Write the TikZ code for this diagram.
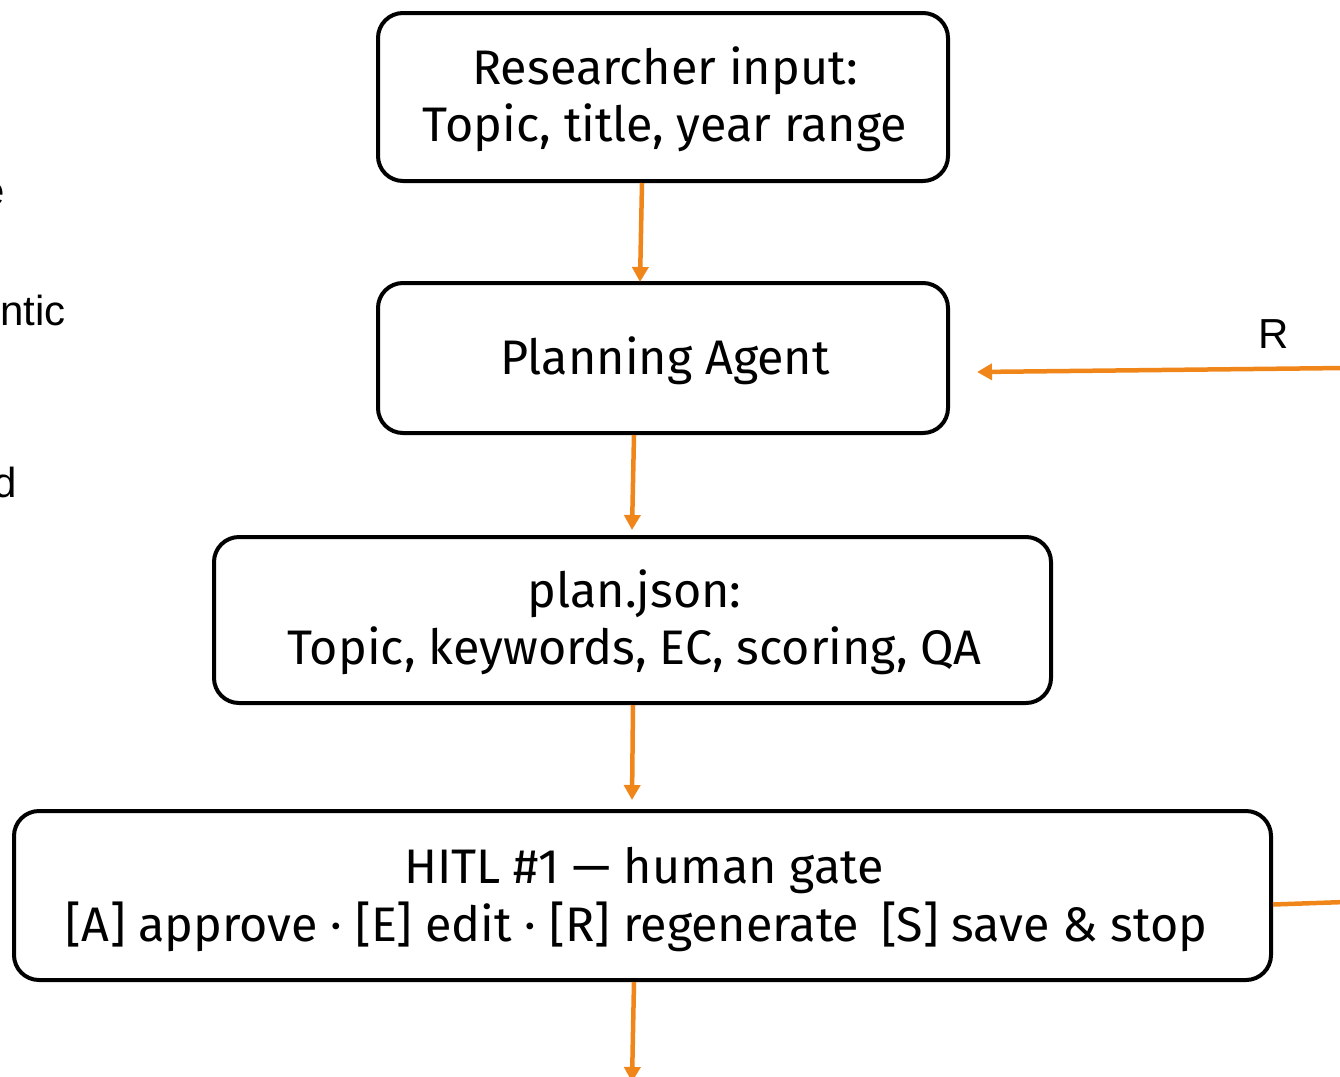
\documentclass[tikz,border=0pt]{standalone}
\usepackage{fontspec}
\setmainfont{Fira Sans}
\newfontfamily\sidefont{Liberation Sans}
\usetikzlibrary{arrows.meta}
\definecolor{flow}{HTML}{F0861A}
\tikzset{
  box/.style={draw=black, line width=4pt, rounded corners=25pt, fill=white,
    inner sep=0pt},
  boxtext/.style={align=center, inner sep=0pt,
    font=\fontsize{48.5}{57.5}\selectfont},
  flowarrow/.style={draw=flow, line width=4.5pt,
    -{Triangle[width=16pt,length=15pt]}},
  flowline/.style={draw=flow, line width=4.5pt},
  sidetext/.style={font=\sidefont\fontsize{42}{50}\selectfont, inner sep=0pt},
}
\begin{document}
\begin{tikzpicture}[x=1pt,y=1pt]
\useasboundingbox (0,0) rectangle (1340,-1076);
\clip (0,0) rectangle (1340,-1076);

% labels of the neighbouring column, cut by the frame edge
\node[sidetext, anchor=base east] (sideA) at (5,-205) {e};
\node[sidetext, anchor=base east] (sideB) at (66,-325) {ntic};
\node[sidetext, anchor=base east] (sideC) at (17,-497) {d};

% main column: frames
\node[box, minimum width=570, minimum height=168] (input) at (663,-97) {};
\node[box, minimum width=570, minimum height=150] (planner) at (663,-358) {};
\node[box, minimum width=837, minimum height=166] (plan) at (632.5,-620) {};
\node[box, minimum width=1257, minimum height=169] (gate) at (642.5,-895.5) {};

% main column: texts
\node[boxtext] (inputText) at ([xshift=2pt,yshift=-2pt]input.center)
  {Researcher input:\\Topic, title, year range};
\node[boxtext] (plannerText) at ([xshift=2pt,yshift=-3pt]planner.center)
  {Planning Agent};
\node[boxtext] (planText) at ([xshift=2pt,yshift=-2pt]plan.center)
  {plan.json:\\Topic, keywords, EC, scoring, QA};
\node[boxtext] (gateText) at ([xshift=-6pt,yshift=-4pt]gate.center)
  {\hspace*{15pt}HITL \#1 — human gate\\{}[A] approve · [E] edit · [R] regenerate\hspace{0.45em}[S] save \& stop};

% free ends beyond the frame
\coordinate (regenIn) at (1345,-368);
\coordinate (gateOut) at (1345,-902);
\coordinate (nextStep) at (632,-1082);

% vertical flow
\draw[flowarrow] ([xshift=-21pt]input.south) -- ([xshift=-23pt,yshift=-1pt]planner.north);
\draw[flowarrow] ([xshift=-29pt]planner.south) -- ([xshift=-0.5pt,yshift=5pt]plan.north);
\draw[flowarrow] ([xshift=0.5pt]plan.south) -- ([xshift=-10.5pt,yshift=9pt]gate.north);
\draw[flowarrow] ([xshift=-8.5pt]gate.south) -- (nextStep);

% regenerate loop
\draw[flowarrow] (regenIn) -- ([xshift=27pt,yshift=-14pt]planner.east);
\node[sidetext, anchor=base] (regenLabel) at (1274,-348) {R};
\draw[flowline] ([yshift=-9pt]gate.east) -- (gateOut);
\end{tikzpicture}
\end{document}
